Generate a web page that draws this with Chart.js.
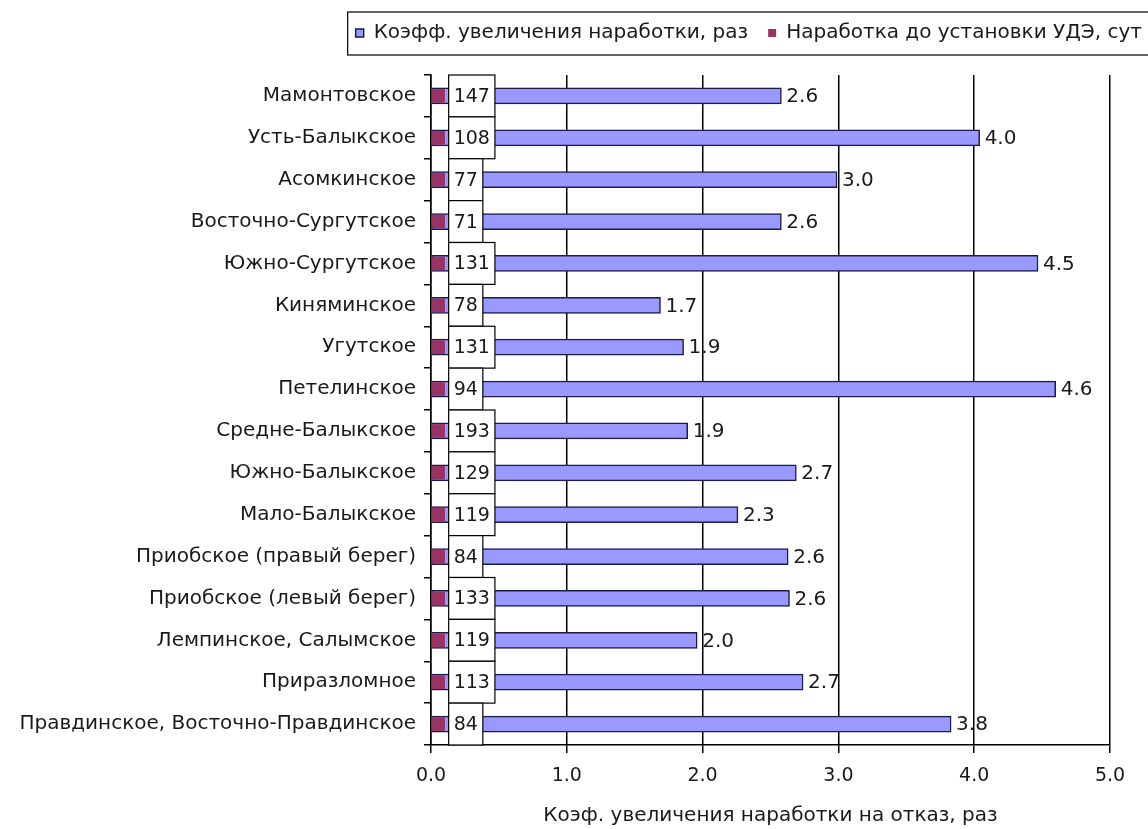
<!DOCTYPE html>
<html>
<head>
<meta charset="utf-8">
<script src="https://cdn.jsdelivr.net/npm/chart.js@4"></script>
<style>
  body { margin: 0; background: #fff; }
</style>
</head>
<body>
<canvas id="chart" width="1148" height="829"></canvas>
<script>
const categories = [
    'Мамонтовское',
    'Усть-Балыкское',
    'Асомкинское',
    'Восточно-Сургутское',
    'Южно-Сургутское',
    'Киняминское',
    'Угутское',
    'Петелинское',
    'Средне-Балыкское',
    'Южно-Балыкское',
    'Мало-Балыкское',
    'Приобское (правый берег)',
    'Приобское (левый берег)',
    'Лемпинское, Салымское',
    'Приразломное',
    'Правдинское, Восточно-Правдинское'
];
const koeff = [2.58, 4.04, 2.99, 2.58, 4.47, 1.69, 1.86, 4.60, 1.89, 2.69, 2.26, 2.63, 2.64, 1.96, 2.74, 3.83];
const narabotka = [147, 108, 77, 71, 131, 78, 131, 94, 193, 129, 119, 84, 133, 119, 113, 84];
const markerLen = [0.1, 0.1, 0.1, 0.1, 0.1, 0.1, 0.1, 0.1, 0.1, 0.1, 0.1, 0.1, 0.1, 0.1, 0.1, 0.1];
const xTicks = [0, 1, 2, 3, 4, 5];

const FONT = '"DejaVu Sans", "Liberation Sans", sans-serif';
const TXT = '#1a1a1a';

// подписи: значения наработки в рамках и коэффициенты у концов полос
const labelsPlugin = {
    id: 'labels',
    afterDatasetsDraw(chart) {
        const ctx = chart.ctx;
        const x = chart.scales.x, y = chart.scales.y;
        const band = y.getPixelForValue(1) - y.getPixelForValue(0);
        ctx.save();
        ctx.textBaseline = 'middle';
        ctx.textAlign = 'left';
        ctx.font = '19px ' + FONT;
        narabotka.forEach((v, i) => {
            const cy = y.getPixelForValue(i);
            const left = x.getPixelForValue(0.13);
            const w = ctx.measureText(String(v)).width + 10;
            ctx.fillStyle = '#fff';
            ctx.fillRect(left, cy - band / 2, w, band);
            ctx.strokeStyle = '#000';
            ctx.lineWidth = 1.2;
            ctx.strokeRect(left, cy - band / 2, w, band);
            ctx.fillStyle = TXT;
            ctx.fillText(String(v), left + 5, cy + 1);
        });
        ctx.font = '20px ' + FONT;
        const meta = chart.getDatasetMeta(0);
        koeff.forEach((v, i) => {
            const bar = meta.data[i];
            ctx.fillStyle = TXT;
            ctx.fillText(v.toFixed(1), bar.x + 5, bar.y + 1);
        });
        ctx.restore();
    },
    afterDraw(chart) {
        const lg = chart.legend;
        if (!lg || !lg.legendHitBoxes.length) return;
        const hb = lg.legendHitBoxes;
        const ctx = chart.ctx;
        ctx.save();
        ctx.strokeStyle = '#000';
        ctx.lineWidth = 1.2;
        ctx.strokeRect(hb[0].left - 8, hb[0].top - 11, chart.width, hb[0].height + 23);
        ctx.restore();
    }
};

new Chart(document.getElementById('chart'), {
    type: 'bar',
    data: {
        labels: categories,
        datasets: [{
            label: 'Коэфф. увеличения наработки, раз',
            data: koeff,
            backgroundColor: '#9999ff',
            borderColor: '#1c1c48',
            borderWidth: 1.5,
            borderSkipped: false,
            barThickness: 16,
            grouped: false,
            order: 1
        }, {
            label: 'Наработка до установки УДЭ, сут',
            data: markerLen,
            backgroundColor: '#993366',
            borderWidth: 0,
            barThickness: 13,
            grouped: false,
            order: 0
        }]
    },
    options: {
        indexAxis: 'y',
        responsive: false,
        animation: false,
        layout: { padding: { top: 3, right: -14, left: 0, bottom: 0 } },
        plugins: {
            tooltip: { enabled: false },
            legend: {
                position: 'top',
                align: 'end',
                weight: 3000,
                labels: {
                    color: TXT,
                    font: { family: FONT, size: 20 },
                    boxWidth: 8,
                    boxHeight: 8,
                    padding: 20,
                    sort: (a, b) => a.datasetIndex - b.datasetIndex
                }
            },
            subtitle: {
                display: true,
                text: '',
                font: { size: 10 },
                padding: { top: 0, bottom: 10 }
            }
        },
        scales: {
            x: {
                min: 0,
                max: 5,
                afterBuildTicks: s => { s.ticks = xTicks.map(v => ({ value: v })); },
                afterFit: s => { s.height = 84; },
                ticks: {
                    color: TXT,
                    font: { family: FONT, size: 19 },
                    padding: 12,
                    callback: v => Number(v).toFixed(1)
                },
                grid: { color: '#000', lineWidth: 1.5, tickLength: 8 },
                border: { color: '#000', width: 1.5 },
                title: {
                    display: true,
                    text: 'Коэф. увеличения наработки на отказ, раз',
                    color: TXT,
                    font: { family: FONT, size: 20 },
                    padding: { top: 4, bottom: 1 }
                }
            },
            y: {
                afterFit: s => { s.width = 431; },
                ticks: {
                    color: TXT,
                    font: { family: FONT, size: 20 },
                    padding: 8,
                    autoSkip: false
                },
                grid: { drawOnChartArea: false, color: '#000', lineWidth: 1.5, tickLength: 7, offset: true },
                border: { color: '#000', width: 1.5 }
            },
            // пустая правая ось: отступ справа от области графика
            yRight: {
                type: 'linear',
                position: 'right',
                afterFit: s => { s.width = 52; },
                ticks: { display: false },
                grid: { display: false },
                border: { display: false }
            }
        }
    },
    plugins: [labelsPlugin]
});
</script>
</body>
</html>
